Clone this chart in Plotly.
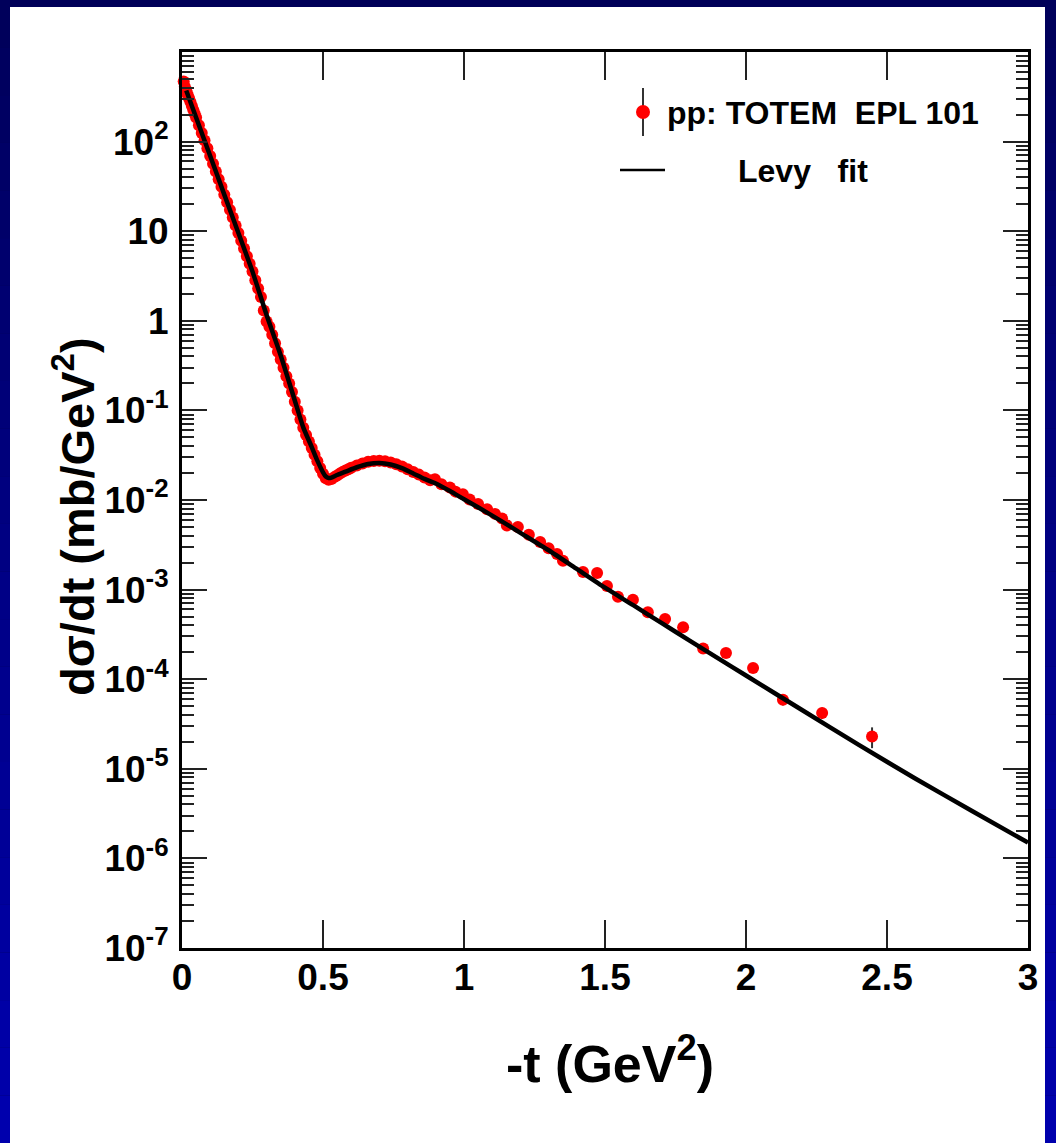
import plotly.graph_objects as go

# ---------------- data ----------------
t_data = [
    0.006, 0.010, 0.015, 0.020, 0.025, 0.030, 0.035, 0.040, 0.045, 0.050,
    0.060, 0.070, 0.080, 0.090, 0.100, 0.110, 0.120, 0.130, 0.140, 0.150,
    0.160, 0.170, 0.180, 0.190, 0.200, 0.210, 0.220, 0.230, 0.240, 0.250,
    0.260, 0.270, 0.280, 0.290, 0.300, 0.310, 0.320, 0.330, 0.340, 0.350,
    0.360, 0.370, 0.380, 0.390, 0.400, 0.410, 0.420, 0.430, 0.440, 0.450,
    0.460, 0.470, 0.480, 0.490, 0.500, 0.510, 0.520, 0.530, 0.540, 0.550,
    0.560, 0.570, 0.580, 0.590, 0.600, 0.620, 0.640, 0.660, 0.680, 0.700,
    0.720, 0.740, 0.760, 0.780, 0.800, 0.820, 0.840, 0.860, 0.880, 0.897,
    0.920, 0.950, 0.970, 0.996, 1.020, 1.050, 1.082, 1.110, 1.135, 1.152,
    1.191, 1.230, 1.270, 1.300, 1.330, 1.351, 1.422, 1.472, 1.507, 1.546,
    1.599, 1.652, 1.713, 1.777, 1.848, 1.929, 2.025, 2.131, 2.270, 2.447,
]
v_data = [
    470, 410, 371, 336, 305, 276, 250, 226, 205, 186,
    152, 125, 103, 84.1, 69.0, 56.6, 46.5, 38.1, 31.3, 25.6,
    21.0, 17.3, 14.2, 11.6, 9.53, 7.82, 6.41, 5.26, 4.32, 3.54,
    2.84, 2.29, 1.84, 1.30, 0.98, 0.86, 0.70, 0.56, 0.45, 0.37,
    0.30, 0.24, 0.20, 0.16, 0.125, 0.10, 0.079, 0.064, 0.053, 0.045,
    0.038, 0.032, 0.027, 0.0228, 0.0196, 0.0175, 0.0168, 0.0172, 0.0180, 0.0188,
    0.0197, 0.0206, 0.0214, 0.0221, 0.0229, 0.0243, 0.0255, 0.0268, 0.0272, 0.0275,
    0.0270, 0.0262, 0.0250, 0.0236, 0.0220, 0.0205, 0.0192, 0.0178, 0.0166, 0.0170,
    0.0150, 0.0138, 0.0124, 0.0116, 0.0101, 0.0090, 0.0079, 0.0070, 0.0062, 0.0052,
    0.0050, 0.0041, 0.0034, 0.0029, 0.0025, 0.0021, 0.00157, 0.00153, 0.00110, 0.00083,
    0.00077, 0.00056, 0.00047, 0.00038, 0.00022, 0.000196, 0.000133, 0.000059, 0.000042, 0.000023,
]
err_data = [0.0] * 104 + [0.00002, 0.00002, 0.000014, 0.000008, 0.000006, 0.000006]

fit_t = [0.015, 0.05, 0.10, 0.15, 0.20, 0.25, 0.30, 0.35, 0.40, 0.43, 0.46, 0.48,
         0.50, 0.51, 0.52, 0.53, 0.55, 0.58, 0.62, 0.66, 0.70, 0.74, 0.78, 0.82,
         0.86, 0.90, 0.95, 1.0, 1.1, 1.2, 1.3, 1.4, 1.5, 1.6, 1.7, 1.8, 1.9, 2.0,
         2.2, 2.4, 2.6, 2.8, 3.0]
fit_v = [371, 186, 69.0, 25.6, 9.53, 3.54, 1.16, 0.41, 0.129, 0.0646, 0.039, 0.0275,
         0.0204, 0.0183, 0.0176, 0.0178, 0.0190, 0.0207, 0.0232, 0.0252, 0.0259, 0.0249,
         0.0227, 0.0198, 0.0172, 0.0153, 0.0126, 0.0102, 0.0067, 0.0043, 0.00275, 0.00170,
         0.00105, 0.00067, 0.000425, 0.00027, 0.000172, 0.00011, 0.000045, 0.0000185,
         0.0000078, 0.0000034, 0.0000015]

x_ticks = [0, 0.5, 1, 1.5, 2, 2.5, 3]
x_ticktext = ["0", "0.5", "1", "1.5", "2", "2.5", "3"]
y_ticks = [1e-7, 1e-6, 1e-5, 1e-4, 1e-3, 1e-2, 1e-1, 1, 10, 100]
y_ticktext = ["10<sup>-7</sup>", "10<sup>-6</sup>", "10<sup>-5</sup>", "10<sup>-4</sup>",
              "10<sup>-3</sup>", "10<sup>-2</sup>", "10<sup>-1</sup>", "1", "10",
              "10<sup>2</sup>"]

legend_data = "pp: TOTEM\u00a0\u00a0EPL 101"
legend_fit = "Levy\u00a0\u00a0\u00a0fit"
x_title = "-t (GeV<sup>2</sup>)"
y_title = "d\u03c3/dt (mb/GeV<sup>2</sup>)"

# ---------------- layout geometry ----------------
W, H = 1056, 1143
L, R, T, B = 182, 28, 52, 195
PW, PH = W - L - R, H - T - B


def px(x):
    return (x - L) / PW


def py(y):
    return (H - B - y) / PH


FONT = "Liberation Sans, Arial, Helvetica, sans-serif"

fig = go.Figure()

fig.add_trace(go.Scatter(
    x=t_data, y=v_data, mode="markers",
    marker=dict(color="#ff0000", size=12, line=dict(width=0)),
    error_y=dict(type="data", array=err_data, color="#333333", thickness=2, width=0),
    showlegend=False, cliponaxis=False,
))
fig.add_trace(go.Scatter(
    x=fit_t, y=fit_v, mode="lines",
    line=dict(color="black", width=4.5, shape="spline", smoothing=0.6),
    showlegend=False,
))

minor_vals = [m * 10.0 ** e for e in range(-7, 3) for m in range(2, 10)]

axis_common = dict(
    showline=True, linewidth=3, linecolor="black", mirror="ticks",
    ticks="inside", tickcolor="#222222", tickwidth=2,
    showgrid=False, zeroline=False,
    tickfont=dict(family=FONT, size=37, color="black", weight="bold"),
)

fig.update_xaxes(
    range=[0, 3], tickmode="array", tickvals=x_ticks, ticktext=x_ticktext,
    ticklen=28, ticklabelstandoff=-5, **axis_common,
)
fig.update_yaxes(
    type="log", range=[-7, 3], tickmode="array", tickvals=y_ticks, ticktext=y_ticktext,
    ticklen=25, ticklabelstandoff=3,
    minor=dict(tickmode="array", tickvals=minor_vals, ticks="inside", ticklen=12,
               tickwidth=2, tickcolor="#222222", showgrid=False),
    **axis_common,
)

shapes = []
# white panel on navy background
shapes.append(dict(type="rect", xref="paper", yref="paper", layer="below",
                   x0=px(10), x1=px(1045), y0=py(1200), y1=py(7),
                   fillcolor="white", line=dict(width=0)))
# left / right border gradient
n = 24
for i in range(n):
    y0 = H * i / n
    y1 = H * (i + 1) / n
    f = (i + 0.5) / n
    b = int(90 + (175 - 90) * f)
    col = f"rgb(0,0,{b})"
    shapes.append(dict(type="rect", xref="paper", yref="paper", layer="below",
                       x0=px(-2), x1=px(10), y0=py(y1), y1=py(y0),
                       fillcolor=col, line=dict(width=0)))
    shapes.append(dict(type="rect", xref="paper", yref="paper", layer="below",
                       x0=px(1045), x1=px(1060), y0=py(y1), y1=py(y0),
                       fillcolor=col, line=dict(width=0)))

# legend symbols
shapes.append(dict(type="line", xref="paper", yref="paper",
                   x0=px(643), x1=px(643), y0=py(136), y1=py(88),
                   line=dict(color="#333333", width=2)))
shapes.append(dict(type="circle", xref="paper", yref="paper",
                   x0=px(636), x1=px(650), y0=py(119), y1=py(105),
                   fillcolor="#ff0000", line=dict(width=0)))
shapes.append(dict(type="line", xref="paper", yref="paper",
                   x0=px(620), x1=px(665), y0=py(170), y1=py(170),
                   line=dict(color="black", width=2.5)))

annotations = [
    dict(text=legend_data, xref="paper", yref="paper", x=px(665), y=py(113),
         xanchor="left", yanchor="middle", showarrow=False,
         font=dict(family=FONT, size=32, color="black", weight="bold")),
    dict(text=legend_fit, xref="paper", yref="paper", x=px(736), y=py(171),
         xanchor="left", yanchor="middle", showarrow=False,
         font=dict(family=FONT, size=32, color="black", weight="bold")),
    dict(text=x_title, xref="paper", yref="paper", x=px(610), y=py(1060),
         xanchor="center", yanchor="middle", showarrow=False,
         font=dict(family=FONT, size=52, color="black", weight="bold")),
    dict(text=y_title, xref="paper", yref="paper", x=px(74), y=py(517),
         xanchor="center", yanchor="middle", showarrow=False, textangle=-90,
         font=dict(family=FONT, size=47, color="black", weight="bold")),
]

fig.update_layout(
    width=W, height=H,
    margin=dict(l=L, r=R, t=T, b=B, pad=0),
    paper_bgcolor="#000058", plot_bgcolor="white",
    shapes=shapes, annotations=annotations,
    showlegend=False,
)

fig.write_html(
    "out.html",
    config={"displayModeBar": False},
    post_script="document.body.style.margin='0px';document.body.style.overflow='hidden';",
)
